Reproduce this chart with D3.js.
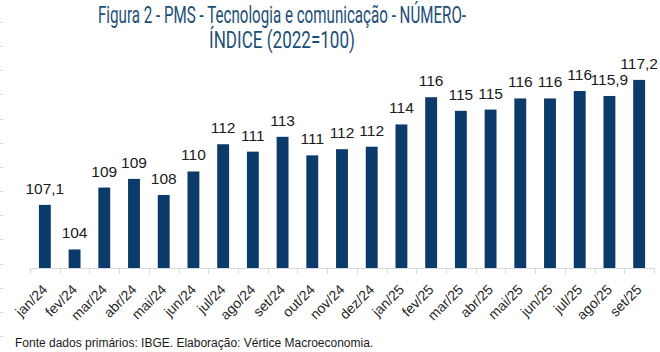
<!DOCTYPE html>
<html>
<head>
<meta charset="utf-8">
<script src="https://cdn.jsdelivr.net/npm/d3@7"></script>
<style>
  body { margin: 0; background: #fff; }
  svg { display: block; }
</style>
</head>
<body>
<svg></svg>
<script>
let width = 660
let height = 352

let months = [
  "jan/24", "fev/24", "mar/24", "abr/24", "mai/24", "jun/24", "jul/24",
  "ago/24", "set/24", "out/24", "nov/24", "dez/24", "jan/25", "fev/25",
  "mar/25", "abr/25", "mai/25", "jun/25", "jul/25", "ago/25", "set/25"
]

// values
let values = [
  107.1, 103.5, 108.5, 109.2, 107.9, 109.8, 112.0,
  111.4, 112.6, 111.1, 111.6, 111.8, 113.6, 115.8,
  114.7, 114.8, 115.7, 115.7, 116.3, 115.9, 117.2
]

// data labels as printed on the chart
let labels = [
  "107,1", "104", "109", "109", "108", "110", "112",
  "111", "113", "111", "112", "112", "114", "116",
  "115", "115", "116", "116", "116", "115,9", "117,2"
]

let titleLines = [
  "Figura 2 - PMS - Tecnologia e comunicação - NÚMERO-",
  "ÍNDICE (2022=100)"
]

let source = "Fonte dados primários: IBGE. Elaboração: Vértice Macroeconomia."

let barColor = "#0b3a6b"
let titleColor = "#1c4f78"
let axisColor = "#d9d9d9"

let svg = d3.select("svg")
  .attr("width", width)
  .attr("height", height)

let xScale = d3.scaleBand()
  .domain(months)
  .range([30, 654])
  .paddingInner(0.6)
  .paddingOuter(0.3)

let yScale = d3.scaleLinear()
  .domain([102, 120])
  .range([268, 268 - 18 * 12.376])

// faint stubs on the left edge
svg.append("g")
  .selectAll("line")
  .data(d3.range(21.7, 345, 24.2))
  .enter()
  .append("line")
  .attr("x1", 0)
  .attr("x2", 3)
  .attr("y1", d => Math.round(d) + 0.5)
  .attr("y2", d => Math.round(d) + 0.5)
  .attr("stroke", axisColor)

// title
svg.append("g")
  .selectAll("text")
  .data(titleLines)
  .enter()
  .append("text")
  .attr("x", 282)
  .attr("y", (d, i) => 23 + i * 25)
  .attr("text-anchor", "middle")
  .attr("fill", titleColor)
  .style("font-family", "'Liberation Sans Narrow', 'Roboto', sans-serif")
  .style("font-size", "23px")
  .attr("textLength", (d, i) => i == 0 ? 368 : 146)
  .attr("lengthAdjust", "spacingAndGlyphs")
  .text(d => d)

// bars
svg.selectAll("rect.bar")
  .data(values)
  .enter()
  .append("rect")
  .attr("class", "bar")
  .attr("x", (d, i) => xScale(months[i]))
  .attr("width", xScale.bandwidth())
  .attr("y", d => yScale(d))
  .attr("height", d => yScale(102) - yScale(d))
  .attr("fill", barColor)

// data labels
svg.selectAll("text.label")
  .data(values)
  .enter()
  .append("text")
  .attr("class", "label")
  .attr("x", (d, i) => xScale(months[i]) + xScale.bandwidth() / 2)
  .attr("y", d => yScale(d) - 11)
  .attr("text-anchor", "middle")
  .style("font-family", "'Liberation Sans', Arial, sans-serif")
  .style("font-size", "15.5px")
  .attr("fill", "#1a1a1a")
  .text((d, i) => labels[i])

// x axis
let xAxis = d3.axisBottom(xScale).tickSize(0).tickPadding(0)

let axisG = svg.append("g")
  .attr("transform", "translate(0, 268)")
  .call(xAxis)

axisG.select(".domain")
  .attr("stroke", axisColor)
  .attr("d", "M30,0.5H654")

// category boundary ticks
axisG.selectAll("line.sep")
  .data(d3.range(months.length + 1))
  .enter()
  .append("line")
  .attr("class", "sep")
  .attr("x1", i => Math.round(30 + i * (624 / months.length)) + 0.5)
  .attr("x2", i => Math.round(30 + i * (624 / months.length)) + 0.5)
  .attr("y1", 0)
  .attr("y2", 6)
  .attr("stroke", axisColor)

axisG.selectAll(".tick text")
  .attr("transform", "translate(0, 19) rotate(-45)")
  .attr("text-anchor", "end")
  .attr("dy", "0.35em")
  .attr("y", 0)
  .attr("x", 0)
  .style("font-family", "'Liberation Sans', Arial, sans-serif")
  .style("font-size", "14px")
  .attr("fill", "#262626")

// source note
svg.append("text")
  .attr("x", 15)
  .attr("y", 347)
  .style("font-family", "'Liberation Sans', Arial, sans-serif")
  .style("font-size", "12px")
  .attr("fill", "#1a1a1a")
  .text(source)
</script>
</body>
</html>
